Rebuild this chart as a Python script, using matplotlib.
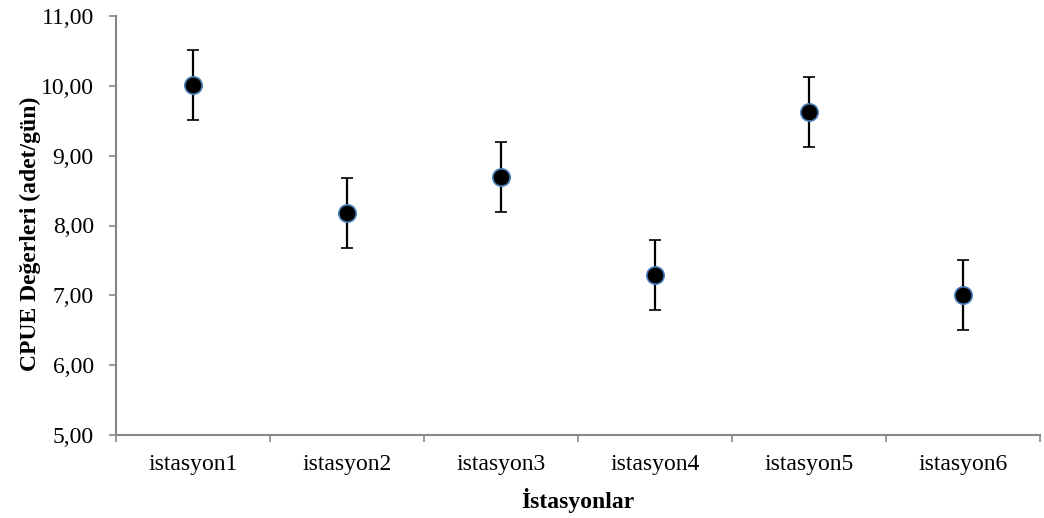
import matplotlib
matplotlib.use("Agg")
import matplotlib.pyplot as plt
from matplotlib.ticker import FuncFormatter, FixedLocator

# CPUE values per station with their error margins
stations = ["istasyon1", "istasyon2", "istasyon3", "istasyon4", "istasyon5", "istasyon6"]
cpue = [10.01, 8.18, 8.70, 7.29, 9.62, 7.01]
errors = [0.50, 0.50, 0.50, 0.50, 0.50, 0.50]
y_ticks = [5, 6, 7, 8, 9, 10, 11]

plt.rcParams["font.family"] = ["Liberation Serif", "DejaVu Serif"]

fig = plt.figure(figsize=(10.44, 5.18), dpi=100)
ax = fig.add_axes([116 / 1044, 1 - 435 / 518, (1040 - 116) / 1044, (435 - 16) / 518])

axis_grey = "#868686"
x = list(range(1, len(stations) + 1))

ax.errorbar(x, cpue, yerr=errors, fmt="o", color="black", ecolor="black",
            elinewidth=1.6, capsize=4.5, capthick=1.6,
            markersize=12.5, markerfacecolor="black",
            markeredgecolor="#4A7EBB", markeredgewidth=1.2, zorder=3)

ax.set_xlim(0.5, len(stations) + 0.5)
ax.set_ylim(5, 11)

# category labels centred between boundary ticks
ax.xaxis.set_major_locator(FixedLocator([i + 0.5 for i in range(0, len(stations) + 1)]))
ax.xaxis.set_major_formatter(FuncFormatter(lambda v, p: ""))
ax.xaxis.set_minor_locator(FixedLocator(x))
ax.set_xticklabels(stations, minor=True)
ax.tick_params(axis="x", which="minor", length=0, pad=14, labelsize=17)
ax.tick_params(axis="x", which="major", direction="out", length=5, width=1.2, color=axis_grey)

ax.yaxis.set_major_locator(FixedLocator(y_ticks))
ax.yaxis.set_major_formatter(FuncFormatter(lambda v, p: f"{v:.2f}".replace(".", ",")))
ax.tick_params(axis="y", direction="out", length=5, width=1.2, color=axis_grey,
               labelsize=17, pad=11)

for side in ("top", "right"):
    ax.spines[side].set_visible(False)
for side in ("left", "bottom"):
    ax.spines[side].set_color(axis_grey)
    ax.spines[side].set_linewidth(1.5)

ax.set_xlabel("İstasyonlar", fontsize=17, fontweight="bold")
ax.set_ylabel("CPUE Değerleri (adet/gün)", fontsize=17, fontweight="bold")
ax.xaxis.set_label_coords((578 - 116) / 924, -(508 - 435) / 419, transform=ax.transAxes)
ax.xaxis.label.set_va("baseline")
ax.yaxis.set_label_coords(-(116 - 36) / 924, (435 - 234) / 419, transform=ax.transAxes)
ax.yaxis.label.set_va("baseline")

fig.savefig("out.png", dpi=100)
